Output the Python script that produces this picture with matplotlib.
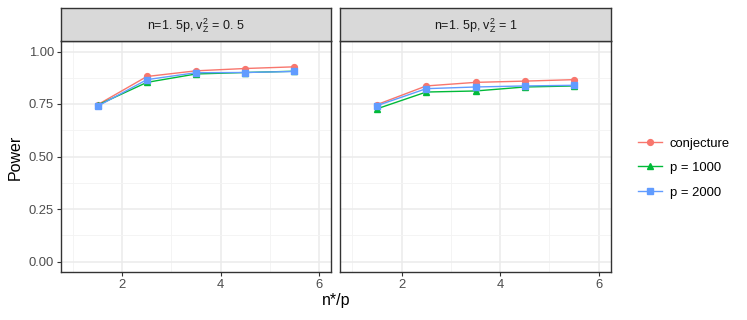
import matplotlib
matplotlib.use("Agg")
import matplotlib.pyplot as plt
from matplotlib.lines import Line2D

plt.rcParams['font.family'] = ['Liberation Sans', 'DejaVu Sans']
plt.rcParams['mathtext.fontset'] = 'custom'
plt.rcParams['mathtext.rm'] = 'Liberation Sans'
plt.rcParams['mathtext.it'] = 'Liberation Sans'

x = [1.5, 2.5, 3.5, 4.5, 5.5]
panel_titles = [r"n=1. 5p, $\mathrm{v}_\mathrm{Z}^2$ = 0. 5", r"n=1. 5p, $\mathrm{v}_\mathrm{Z}^2$ = 1"]
series_names = ["conjecture", "p = 1000", "p = 2000"]
left_conjecture = [0.747, 0.881, 0.908, 0.919, 0.927]
left_p1000 = [0.745, 0.853, 0.893, 0.900, 0.906]
left_p2000 = [0.740, 0.866, 0.899, 0.900, 0.905]
right_conjecture = [0.747, 0.836, 0.853, 0.859, 0.866]
right_p1000 = [0.727, 0.807, 0.812, 0.831, 0.836]
right_p2000 = [0.742, 0.823, 0.831, 0.836, 0.839]
colors = ["#F8766D", "#00BA38", "#619CFF"]
markers = ["o", "^", "s"]

panels = [[left_conjecture, left_p1000, left_p2000],
          [right_conjecture, right_p1000, right_p2000]]

W, H = 747, 320
fig = plt.figure(figsize=(W / 100, H / 100), dpi=100)

def box(x0, x1, y0, y1):
    return [x0 / W, 1 - y1 / H, (x1 - x0) / W, (y1 - y0) / H]

axes_px = [(61, 331), (340, 611)]
top, bottom, strip_top = 41, 272, 7.5
grey20 = "#333333"

for i, (x0, x1) in enumerate(axes_px):
    ax = fig.add_axes(box(x0, x1, top, bottom))
    for ser, c, m in zip(panels[i], colors, markers):
        ax.plot(x, ser, color=c, marker=m, markersize=4.2, linewidth=1.0)
    ax.set_xlim(0.75, 6.25)
    ax.set_ylim(-0.05, 1.05)
    ax.set_xticks([2, 4, 6])
    ax.set_xticks([1, 3, 5], minor=True)
    ax.set_yticks([0, 0.25, 0.5, 0.75, 1.0])
    ax.set_yticks([0.125, 0.375, 0.625, 0.875], minor=True)
    ax.grid(which='major', color='#EBEBEB', linewidth=1.1)
    ax.grid(which='minor', color='#F3F3F3', linewidth=0.6)
    ax.set_axisbelow(True)
    for s in ax.spines.values():
        s.set_color(grey20)
        s.set_linewidth(1.0)
    ax.tick_params(which='major', length=3, color=grey20, labelsize=9.4,
                   labelcolor='#4D4D4D', width=0.8, pad=2)
    ax.tick_params(which='minor', length=0)
    if i == 0:
        ax.set_yticklabels(["0.00", "0.25", "0.50", "0.75", "1.00"])
    else:
        ax.set_yticklabels([])
        ax.tick_params(axis='y', which='major', length=0)
    # strip
    sax = fig.add_axes(box(x0, x1, strip_top, top))
    sax.set_facecolor('#D9D9D9')
    sax.set_xticks([])
    sax.set_yticks([])
    for s in sax.spines.values():
        s.set_color(grey20)
        s.set_linewidth(1.0)
    sax.text(0.5, 0.45, panel_titles[i], ha='center', va='center',
             fontsize=9.0, color='#1A1A1A', transform=sax.transAxes)

fig.text(15 / W, 1 - 157 / H, "Power", rotation=90, ha='center', va='center',
         fontsize=11.5, color='black')
fig.text(336 / W, 1 - 300 / H, "n*/p", ha='center', va='center',
         fontsize=11.5, color='black')

handles = [Line2D([0], [0], color=c, marker=m, markersize=4.2, linewidth=1.0)
           for c, m in zip(colors, markers)]
fig.legend(handles, series_names, loc='center left',
           bbox_to_anchor=(633 / W, 1 - 168 / H), frameon=False,
           fontsize=9.4, handlelength=1.8, handletextpad=0.6,
           labelspacing=0.95, borderaxespad=0)

fig.savefig("out.png", dpi=100)
